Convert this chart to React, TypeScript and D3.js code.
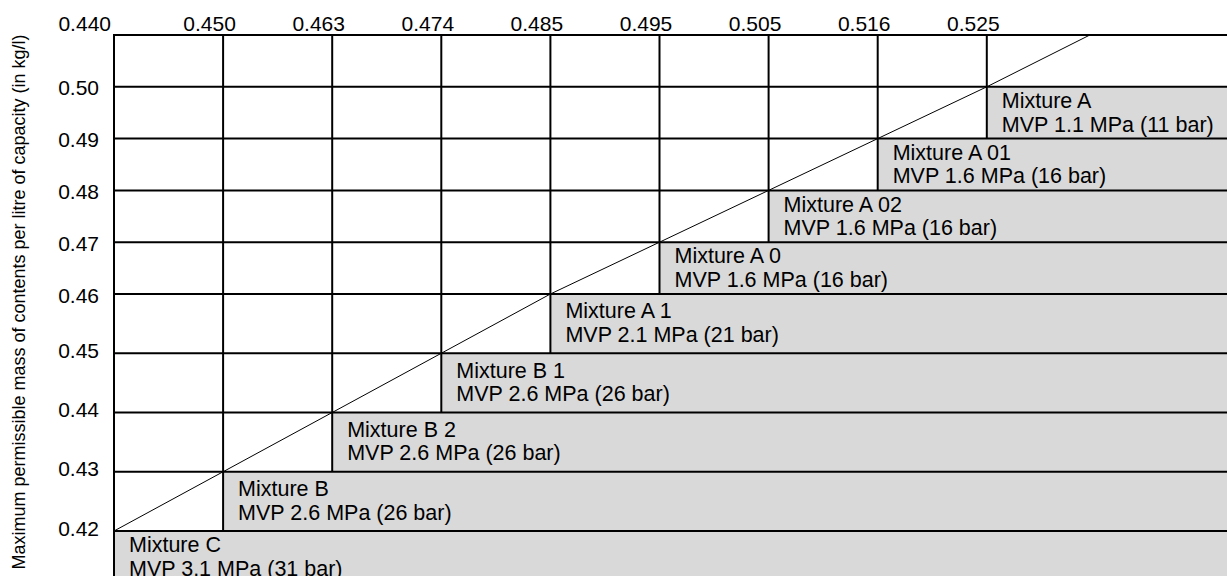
import React from "react";
import * as d3 from "d3";

// x axis: density values (shown as equally spaced column boundaries)
const densityTicks = [0.44, 0.45, 0.463, 0.474, 0.485, 0.495, 0.505, 0.516, 0.525];
const densityLabels = ["0.440", "0.450", "0.463", "0.474", "0.485", "0.495", "0.505", "0.516", "0.525"];
// y axis: maximum permissible mass per litre
const massLevels = [0.42, 0.43, 0.44, 0.45, 0.46, 0.47, 0.48, 0.49, 0.5];
const massLabels = ["0.42", "0.43", "0.44", "0.45", "0.46", "0.47", "0.48", "0.49", "0.50"];
// mixtures, one per step (same order as the ticks)
const mixtureNames = ["Mixture C", "Mixture B", "Mixture B 2", "Mixture B 1", "Mixture A 1", "Mixture A 0", "Mixture A 02", "Mixture A 01", "Mixture A"];
const mixturePressures = ["MVP 3.1 MPa (31 bar)", "MVP 2.6 MPa (26 bar)", "MVP 2.6 MPa (26 bar)", "MVP 2.6 MPa (26 bar)", "MVP 2.1 MPa (21 bar)", "MVP 1.6 MPa (16 bar)", "MVP 1.6 MPa (16 bar)", "MVP 1.6 MPa (16 bar)", "MVP 1.1 MPa (11 bar)"];
// end of the diagonal at the top border
const diagonalEnd = { density: 0.5335, mass: 0.51 };
const yTop = 0.51;
const yBottom = 0.41;

const W = 1227;
const H = 576;
const FONT = "'Liberation Sans', Arial, sans-serif";

export default function App() {
  const left = 114;
  const step = 109.1;
  const x = d3
    .scaleLinear()
    .domain(densityTicks)
    .range(densityTicks.map((_, i) => left + i * step));
  const y = d3
    .scaleLinear()
    .domain([yBottom, 0.42, 0.46, yTop])
    .range([583, 531, 294, 35]);

  const right = W + 2;
  const diagPts: [number, number][] = densityTicks.map((d, i) => [x(d), y(massLevels[i])]);
  diagPts.push([x(diagonalEnd.density), y(diagonalEnd.mass)]);
  const line = d3.line();

  return (
    <svg
      width={W}
      height={H}
      style={{ position: "absolute", left: 0, top: 0, background: "#fff" }}
      fontFamily={FONT}
    >
      {/* gray mixture bands */}
      {densityTicks.map((d, i) => {
        const top = y(massLevels[i]);
        const bot = y(massLevels[i] - 0.01);
        return (
          <rect key={"r" + i} x={x(d)} y={top} width={right - x(d)} height={bot - top} fill="#d9d9d9" />
        );
      })}
      {/* horizontal grid lines */}
      {[yTop, ...massLevels].map((m, i) => (
        <line key={"h" + i} x1={left} x2={right} y1={y(m)} y2={y(m)} stroke="#000" strokeWidth={2} />
      ))}
      {/* vertical grid lines */}
      {densityTicks.map((d, i) => (
        <line
          key={"v" + i}
          x1={x(d)}
          x2={x(d)}
          y1={y(yTop) - 1}
          y2={Math.min(H + 5, y(massLevels[i] - 0.01))}
          stroke="#000"
          strokeWidth={2}
        />
      ))}
      {/* diagonal */}
      <path d={line(diagPts) || ""} fill="none" stroke="#000" strokeWidth={1} />
      {/* mixture labels */}
      {densityTicks.map((d, i) => {
        const top = y(massLevels[i]);
        const h = y(massLevels[i] - 0.01) - top;
        const b1 = top + 0.41 * h;
        return (
          <g key={"t" + i} fontSize={21.5} fill="#000">
            <text x={x(d) + 15} y={b1}>{mixtureNames[i]}</text>
            <text x={x(d) + 15} y={b1 + 23.5}>{mixturePressures[i]}</text>
          </g>
        );
      })}
      {/* x tick labels (top) */}
      {densityTicks.map((d, i) => (
        <text
          key={"xt" + i}
          x={i === 0 ? x(d) - 3 : x(d) - 13.5}
          y={31}
          fontSize={21}
          textAnchor={i === 0 ? "end" : "middle"}
        >
          {densityLabels[i]}
        </text>
      ))}
      {/* y tick labels */}
      {massLevels.map((m, i) => {
        const hAbove = y(m) - y(m + 0.01);
        return (
          <text key={"yt" + i} x={99} y={y(m) + (hAbove > 55 ? 4.5 : 8.5)} fontSize={21} textAnchor="end">
            {massLabels[i]}
          </text>
        );
      })}
      {/* y axis title */}
      <text transform={`translate(25,302) rotate(-90)`} fontSize={18} textAnchor="middle">
        Maximum permissible mass of contents per litre of capacity (in kg/l)
      </text>
    </svg>
  );
}
